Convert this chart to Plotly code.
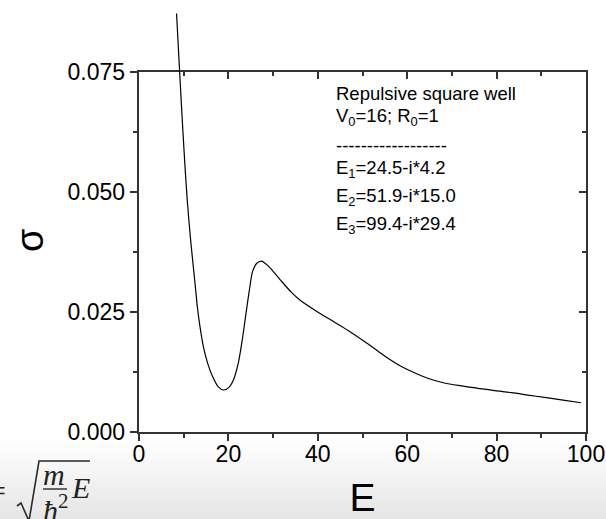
import plotly.graph_objects as go

# Cross section sigma(E) for the repulsive square well
energy = [8.4, 8.95, 9.5, 10.2, 10.8, 11.5, 12.0, 12.53, 13.05, 13.65, 14.4, 15.36,
          16.48, 17.75, 18.9, 20.0, 21.1, 22.2, 23.1, 23.94, 24.7, 25.4, 26.3,
          27.4, 28.9, 31.5, 34.0, 36.0, 39.8, 43.5, 47.2, 51.0, 54.7, 58.4,
          61.0, 64.6, 68.3, 72.1, 75.8, 79.6, 83.3, 87.0, 90.7, 94.5, 98.9]
sigma = [0.0872, 0.0775, 0.0680, 0.0567, 0.0482, 0.0405, 0.0358, 0.0310, 0.0261,
         0.0219, 0.0178, 0.0143, 0.0115, 0.0094, 0.00875, 0.0092, 0.0108, 0.0143,
         0.0192, 0.0247, 0.0296, 0.0334, 0.0351, 0.0356, 0.0346, 0.0318, 0.0292,
         0.0275, 0.0251, 0.0230, 0.0209, 0.0185, 0.0160, 0.0138, 0.0126,
         0.0112, 0.0102, 0.0096, 0.0091, 0.0086, 0.0082, 0.0077, 0.0072, 0.0067,
         0.0061]

x_ticks = [0, 20, 40, 60, 80, 100]
y_ticks = [0.0, 0.025, 0.05, 0.075]
y_tick_text = ["0.000", "0.025", "0.050", "0.075"]

info_lines = [
    "Repulsive square well",
    "V<sub>0</sub>=16; R<sub>0</sub>=1",
    "------------------",
    "E<sub>1</sub>=24.5-i*4.2",
    "E<sub>2</sub>=51.9-i*15.0",
    "E<sub>3</sub>=99.4-i*29.4",
]

W, H = 606, 519
ML, MR, MT, MB = 139, 20, 0, 87
PW, PH = W - ML - MR, H - MT - MB
FRAME_H = 360  # pixel height of the framed box (0 .. 0.075)
Y_MAX = 0.075
Y_TOP = Y_MAX * PH / FRAME_H  # value reached at the very top of the figure


def px(xp):
    return (xp - ML) / PW


def py(yp):
    return (PH + MT - yp) / PH


AX = dict(color="#333333", width=1.5)
FONT = "Arial, Liberation Sans, sans-serif"
frame_top = FRAME_H / PH

fig = go.Figure()
line_style = dict(color="black", width=1.2, shape="spline", smoothing=0.8)
fig.add_trace(go.Scatter(x=energy, y=sigma, mode="lines", line=line_style,
                         xaxis="x", yaxis="y", showlegend=False, hoverinfo="skip"))
# the same curve continued above the frame
fig.add_trace(go.Scatter(x=energy, y=sigma, mode="lines", line=line_style,
                         xaxis="x3", yaxis="y3", showlegend=False, hoverinfo="skip"))

common = dict(showgrid=False, zeroline=False, showline=True,
              linecolor=AX["color"], linewidth=AX["width"],
              tickcolor=AX["color"], tickwidth=AX["width"])

fig.update_layout(
    width=W, height=H,
    margin=dict(l=ML, r=MR, t=MT, b=MB, pad=0, autoexpand=False),
    paper_bgcolor="white", plot_bgcolor="rgba(0,0,0,0)",
    font=dict(family=FONT, color="black"),
    xaxis=dict(domain=[0, 1], range=[0, 100], anchor="y", ticks="outside",
               ticklen=7.5, tickvals=x_ticks, tickfont=dict(size=23),
               ticklabelstandoff=-7,
               minor=dict(dtick=10, tick0=0, ticks="outside", ticklen=4,
                          tickcolor=AX["color"], tickwidth=AX["width"]),
               title=dict(text="E", font=dict(size=39), standoff=27),
               **common),
    yaxis=dict(domain=[0, frame_top], range=[0, Y_MAX], anchor="x", ticks="outside",
               ticklen=7.5, tickvals=y_ticks, ticktext=y_tick_text,
               tickfont=dict(size=23),
               minor=dict(dtick=0.0125, tick0=0, ticks="outside", ticklen=4,
                          tickcolor=AX["color"], tickwidth=AX["width"]),
               **common),
    xaxis2=dict(overlaying="x", side="top", anchor="y", range=[0, 100],
                ticks="inside", ticklen=7.5, tickvals=x_ticks, showticklabels=False,
                minor=dict(dtick=10, tick0=0, ticks="inside", ticklen=4,
                           tickcolor=AX["color"], tickwidth=AX["width"]),
                **common),
    yaxis2=dict(overlaying="y", side="right", anchor="x", range=[0, Y_MAX],
                ticks="inside", ticklen=7.5, tickvals=y_ticks, showticklabels=False,
                minor=dict(dtick=0.0125, tick0=0, ticks="inside", ticklen=4,
                           tickcolor=AX["color"], tickwidth=AX["width"]),
                **common),
    xaxis3=dict(domain=[0, 1], range=[0, 100], anchor="y3", visible=False),
    yaxis3=dict(domain=[frame_top, 1], range=[Y_MAX, Y_TOP], anchor="x3",
                visible=False),
)

# invisible traces so the mirror axes are drawn
fig.add_trace(go.Scatter(x=[None], y=[None], xaxis="x2", yaxis="y", showlegend=False))
fig.add_trace(go.Scatter(x=[None], y=[None], xaxis="x", yaxis="y2", showlegend=False))

shapes = []
# soft grey gradient along the bottom edge
g0, g1, steps = 440, H, 24
for i in range(steps):
    t = i / (steps - 1)
    c = int(round(254 - 24 * t))
    y_a = g0 + (g1 - g0) * i / steps
    y_b = g0 + (g1 - g0) * (i + 1) / steps
    shapes.append(dict(type="rect", xref="paper", yref="paper", layer="below",
                       x0=px(0), x1=px(W), y0=py(y_b + 0.5), y1=py(y_a),
                       fillcolor=f"rgb({c},{c},{c})", line=dict(width=0)))

# radical sign and fraction bar of the formula in the lower left corner
rad = [(17, 506), (21, 503), (29, 521), (39, 461), (90, 461)]
path = "M " + " L ".join(f"{px(a):.5f},{py(b):.5f}" for a, b in rad)
shapes.append(dict(type="path", xref="paper", yref="paper", path=path,
                   line=dict(color="#2a2a2a", width=1.6)))
shapes.append(dict(type="line", xref="paper", yref="paper",
                   x0=px(43), x1=px(67), y0=py(489), y1=py(489),
                   line=dict(color="#2a2a2a", width=1.4)))

annotations = []
# y-axis title
annotations.append(dict(text="σ", x=px(30), y=py(241), xref="paper", yref="paper",
                        xanchor="center", yanchor="middle", textangle=-90,
                        showarrow=False, font=dict(size=38, color="black")))

info_y = [94, 117, 146, 169, 197, 225]
for text, yc in zip(info_lines, info_y):
    annotations.append(dict(text=text, x=px(334), y=py(yc), xref="paper", yref="paper",
                            xanchor="left", yanchor="middle", showarrow=False,
                            font=dict(size=18.5, color="black")))

SERIF = "Liberation Serif, DejaVu Serif, serif"
formula = [
    ("=", 8, 491, "right", 30),
    ("<i>m</i>", 54, 474, "center", 30),
    ("<i>ħ</i><sup>2</sup>", 56, 508, "center", 30),
    ("<i>E</i>", 80, 487, "center", 30),
]
for text, xc, yc, xa, size in formula:
    annotations.append(dict(text=text, x=px(xc), y=py(yc), xref="paper", yref="paper",
                            xanchor=xa, yanchor="middle", showarrow=False,
                            font=dict(size=size, family=SERIF, color="#222222")))

fig.update_layout(shapes=shapes, annotations=annotations)
fig.write_html("out.html")
